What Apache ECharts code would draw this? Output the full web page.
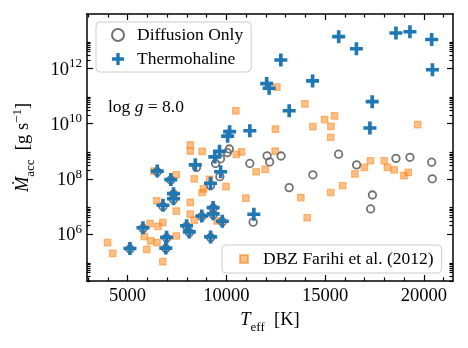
<!DOCTYPE html>
<html>
<head>
<meta charset="utf-8">
<script src="https://cdn.jsdelivr.net/npm/echarts@6/dist/echarts.min.js"></script>
<style>
  html, body { margin: 0; padding: 0; background: #fff; }
  #chart { width: 468px; height: 348px; }
</style>
</head>
<body>
<div id="chart"></div>
<script>
// Thermohaline (blue plus)
const thermoTeff = [6506, 7190, 7327, 7327, 6795, 5782, 5124, 6977, 6937, 7990, 8127, 8430, 8759,
  9200, 9332, 9332, 9797, 9205, 9418, 9656, 9711, 10066, 10167, 11190, 11392, 12041, 12167,
  12759, 13180, 14365, 15686, 16582, 17266, 17382, 18582, 19291, 20390, 20430];
const thermoMdot = [1.9e8, 9.4e7, 2.9e7, 1.9e7, 1.1e7, 1.7e6, 3.0e5, 7.6e5, 3.1e5, 2.0e6, 1.2e6, 3.2e8, 4.5e6,
  6.9e7, 9.1e6, 5.4e6, 2.9e6, 7.9e5, 6.2e8, 9.9e8, 1.8e8, 3.5e9, 5.1e9, 5.5e9, 5.2e6, 2.8e11, 1.9e11,
  2.0e12, 2.9e10, 3.5e11, 1.4e13, 5.1e12, 6.9e9, 6.2e10, 1.9e13, 2.1e13, 1.1e13, 8.9e11];

// Diffusion only (grey open circles)
const diffTeff = [6506, 7190, 7327, 7327, 6795, 5782, 5124, 6977, 6937, 7990, 8127, 8491, 8759,
  9200, 9332, 9332, 9797, 9205, 9453, 9706, 9671, 10051, 10152, 11190, 11357, 12061, 12192,
  12770, 13180, 14380, 15681, 16592, 17301, 17392, 18582, 19291, 20390, 20420];
const diffMdot = [1.8e8, 9.0e7, 2.8e7, 1.8e7, 1.0e7, 1.6e6, 2.9e5, 7.2e5, 3.0e5, 1.9e6, 1.15e6, 2.6e8, 4.3e6,
  5.6e7, 8.6e6, 5.1e6, 2.8e6, 7.5e5, 3.6e8, 5.3e8, 1.2e8, 8.9e8, 1.2e9, 3.6e8, 2.7e6, 6.8e8, 4.1e8,
  6.7e8, 4.8e7, 1.4e8, 7.8e8, 3.2e8, 8.1e6, 2.6e7, 5.5e8, 6.0e8, 4.0e8, 1.0e8];

// DBZ Farihi et al. (2012) (orange squares)
const dbzTeff = [3985, 4253, 5975, 6785, 6142, 5848, 6177, 6491, 6542, 6785, 7468, 6481, 7468, 8177,
  8177, 8380, 8775, 8851, 8380, 7468, 6344, 8177, 8177, 8775, 9154, 9985, 10987, 9534, 10481, 10770,
  10506, 11509, 11965, 12471, 12481, 12557, 13975, 14380, 14972, 15478, 15291, 15281, 19681, 16506,
  16987, 17291, 17990, 18152, 18491, 18987, 19200, 13772, 14091, 15281, 15884];
const dbzMdot = [4.9e5, 2.0e5, 2.8e5, 1.0e5, 2.4e6, 8.3e5, 5.7e5, 4.9e5, 1.9e6, 2.6e6, 8.5e5, 1.6e7, 6.8e6, 1.4e7,
  5.3e6, 3.2e6, 3.2e7, 4.3e7, 1.0e8, 1.4e8, 1.9e8, 1.0e9, 1.7e9, 9.9e8, 9.6e7, 5.2e7, 2.0e7, 3.0e6, 2.9e10, 9.5e8,
  7.6e8, 1.8e8, 2.2e8, 1.0e9, 6.3e9, 2.1e11, 5.2e10, 7.7e9, 1.4e10, 1.9e10, 7.9e9, 3.2e9, 9.2e9, 1.5e8,
  2.6e8, 4.5e8, 4.5e8, 2.6e8, 2.1e8, 1.3e8, 1.7e8, 2.1e7, 3.9e6, 3.2e7, 5.6e7];

const xMajor = [5000, 10000, 15000, 20000];
const xMinor = [3000, 4000, 6000, 7000, 8000, 9000, 11000, 12000, 13000, 14000, 16000, 17000, 18000, 19000, 21000];
const yMajor = [1e6, 1e8, 1e10, 1e12];
const yMinor = [];
[1e4, 1e6, 1e8, 1e10, 1e12].forEach(d => { for (let k = 2; k <= 9; k++) yMinor.push(k * d); });

const FONT = 'Liberation Serif';
const PLUS = 'path://M3.6,0H6.4V3.6H10V6.4H6.4V10H3.6V6.4H0V3.6H3.6Z';
const SQUARE = 'path://M0,0H10V10H0Z';

const zip = (a, b) => a.map((v, i) => [v, b[i]]);

const chart = echarts.init(document.getElementById('chart'), null, { renderer: 'canvas' });

const X_MIN = 2950, X_MAX = 21470;
const Y_MIN = 2.0e4, Y_MAX = 9.25e13;
const black = '#000';

function xAxisDef(pos, major) {
  return {
    type: 'value', position: pos, min: X_MIN, max: X_MAX,
    axisLine: { show: major, lineStyle: { color: black, width: 1.5 } },
    axisTick: { show: true, inside: true, length: major ? 6 : 3.5,
      customValues: major ? xMajor : xMinor, lineStyle: { color: black, width: 1.2 } },
    axisLabel: { show: major && pos === 'bottom', customValues: xMajor, margin: 6,
      formatter: v => String(v),
      fontFamily: FONT, fontSize: 18.5, color: black },
    splitLine: { show: false }
  };
}
function yAxisDef(pos, major) {
  return {
    type: 'log', position: pos, min: Y_MIN, max: Y_MAX,
    axisLine: { show: major, lineStyle: { color: black, width: 1.5 } },
    axisTick: { show: true, inside: true, length: major ? 6 : 3.5,
      customValues: major ? yMajor : yMinor, lineStyle: { color: black, width: 1.2 } },
    axisLabel: { show: major && pos === 'left', customValues: yMajor, margin: 5,
      formatter: v => '{b|10}{s|' + Math.round(Math.log10(v)) + '}',
      rich: {
        b: { fontFamily: FONT, fontSize: 18.5, color: black, verticalAlign: 'bottom' },
        s: { fontFamily: FONT, fontSize: 13, color: black, verticalAlign: 'bottom', padding: [0, 0, 9, 0] }
      } },
    splitLine: { show: false }
  };
}

const xAxes = [xAxisDef('bottom', true), xAxisDef('bottom', false), xAxisDef('top', true), xAxisDef('top', false)];
const yAxes = [yAxisDef('left', true), yAxisDef('left', false), yAxisDef('right', true), yAxisDef('right', false)];

xAxes[0].name = '{i|T}{sub|eff}{n|  [K]}';
xAxes[0].nameLocation = 'middle';
xAxes[0].nameGap = 22;
xAxes[0].nameTextStyle = { rich: {
  i: { fontFamily: FONT, fontSize: 18.5, fontStyle: 'italic', color: black, verticalAlign: 'bottom', padding: [0, 0, 4, 0] },
  sub: { fontFamily: FONT, fontSize: 13, color: black, verticalAlign: 'bottom' },
  n: { fontFamily: FONT, fontSize: 18.5, color: black, verticalAlign: 'bottom', padding: [0, 0, 4, 0] }
} };

yAxes[0].name = '{i|Ṁ}{sub|acc}{n|  [g s}{sup|−1}{n|]}';
yAxes[0].nameLocation = 'middle';
yAxes[0].nameGap = 50;
yAxes[0].nameTextStyle = { rich: {
  i: { fontFamily: FONT, fontSize: 18.5, fontStyle: 'italic', color: black, verticalAlign: 'bottom', padding: [0, 0, 4, 0] },
  sub: { fontFamily: FONT, fontSize: 13, color: black, verticalAlign: 'bottom' },
  n: { fontFamily: FONT, fontSize: 18.5, color: black, verticalAlign: 'bottom', padding: [0, 0, 4, 0] },
  sup: { fontFamily: FONT, fontSize: 13, color: black, verticalAlign: 'bottom', padding: [0, 0, 13, 0] }
} };

const legendBox = {
  orient: 'vertical',
  backgroundColor: 'rgba(255,255,255,0.8)', borderColor: '#cccccc', borderWidth: 1, borderRadius: 4
};

chart.setOption({
  animation: false,
  backgroundColor: '#fff',
  grid: { left: 87, right: 15, top: 14, bottom: 67, containLabel: false },
  xAxis: xAxes,
  yAxis: yAxes,
  legend: [
    Object.assign({}, legendBox, {
      data: ['Diffusion Only', 'Thermohaline'],
      left: 96, top: 22,
      padding: [4, 8, 4, 15], itemGap: 6, itemWidth: 12, itemHeight: 12,
      textStyle: { fontFamily: FONT, fontSize: 17.5, color: black, padding: [0, 0, 0, 8] }
    }),
    Object.assign({}, legendBox, {
      data: [{ name: 'DBZ Farihi et al. (2012)', icon: SQUARE }],
      left: 222, top: 245,
      padding: [5, 8, 5, 17], itemWidth: 8, itemHeight: 8,
      textStyle: { fontFamily: FONT, fontSize: 17.5, color: black, padding: [0, 0, 0, 10] }
    })
  ],
  graphic: [{
    type: 'text', left: 108, top: 98,
    style: {
      text: '{n|log }{i|g}{n| = 8.0}',
      rich: {
        n: { fontFamily: FONT, fontSize: 17.5, fill: black },
        i: { fontFamily: FONT, fontSize: 17.5, fontStyle: 'italic', fill: black }
      }
    }
  }],
  series: [
    {
      name: 'DBZ Farihi et al. (2012)', type: 'scatter', z: 2,
      symbol: SQUARE, symbolSize: 6.5,
      itemStyle: { color: 'rgba(255,127,14,0.5)', borderColor: 'rgba(255,127,14,0.5)', borderWidth: 1.2, opacity: 1 },
      data: zip(dbzTeff, dbzMdot)
    },
    {
      name: 'Diffusion Only', type: 'scatter', z: 3,
      symbol: 'circle', symbolSize: 7.5,
      itemStyle: { color: 'rgba(0,0,0,0)', borderColor: '#727272', borderWidth: 1.8, opacity: 1 },
      data: zip(diffTeff, diffMdot)
    },
    {
      name: 'Thermohaline', type: 'scatter', z: 4,
      symbol: PLUS, symbolSize: 13,
      itemStyle: { color: '#1f77b4', opacity: 1 },
      data: zip(thermoTeff, thermoMdot)
    }
  ]
});
</script>
</body>
</html>
